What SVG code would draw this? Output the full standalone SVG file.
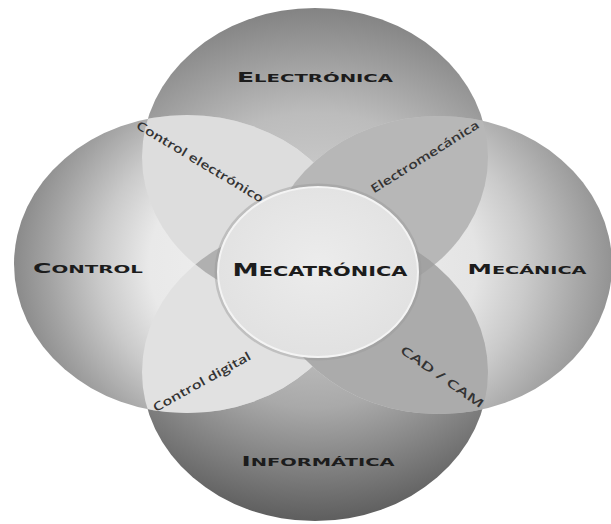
<svg xmlns="http://www.w3.org/2000/svg" width="611" height="524" viewBox="0 0 611 524">
<style>
.cap{font-family:"DejaVu Sans","Liberation Sans",sans-serif;font-weight:bold;fill:#1c1c1c;}
.lbl{font-family:"Open Sans","DejaVu Sans",sans-serif;font-weight:600;fill:#333333;font-size:12px;}
</style>
<defs>
<radialGradient id="gTop" cx="0.5" cy="0.78" r="0.78">
<stop offset="0" stop-color="#d6d6d6"/><stop offset="0.55" stop-color="#bcbcbc"/><stop offset="1" stop-color="#838383"/>
</radialGradient>
<radialGradient id="gBottom" cx="0.5" cy="0.22" r="0.8">
<stop offset="0" stop-color="#d0d0d0"/><stop offset="0.5" stop-color="#a9a9a9"/><stop offset="1" stop-color="#5a5a5a"/>
</radialGradient>
<radialGradient id="gLeft" cx="0.75" cy="0.5" r="0.75">
<stop offset="0" stop-color="#f0f0f0"/><stop offset="0.48" stop-color="#e9e9e9"/><stop offset="0.67" stop-color="#cacaca"/><stop offset="0.87" stop-color="#a2a2a2"/><stop offset="1" stop-color="#8a8a8a"/>
</radialGradient>
<radialGradient id="gRight" cx="0.25" cy="0.5" r="0.75">
<stop offset="0" stop-color="#eeeeee"/><stop offset="0.48" stop-color="#e4e4e4"/><stop offset="0.67" stop-color="#cacaca"/><stop offset="0.87" stop-color="#a8a8a8"/><stop offset="1" stop-color="#939393"/>
</radialGradient>
<radialGradient id="gCenter" cx="0.5" cy="0.45" r="0.6">
<stop offset="0" stop-color="#ececec"/><stop offset="1" stop-color="#e0e0e0"/>
</radialGradient>
<clipPath id="cTop"><ellipse cx="315" cy="157" rx="173" ry="149"/></clipPath>
<clipPath id="cBottom"><ellipse cx="315" cy="372" rx="173" ry="149"/></clipPath>
<clipPath id="cLeft"><ellipse cx="187" cy="264" rx="173" ry="149"/></clipPath>
<clipPath id="cRight"><ellipse cx="439" cy="265" rx="173" ry="149"/></clipPath>
</defs>
<rect width="611" height="524" fill="#ffffff"/>

<g id="electronica">
<ellipse cx="315" cy="157" rx="173" ry="149" fill="url(#gTop)"/>
<text class="cap" x="315" y="82" text-anchor="middle" textLength="156" lengthAdjust="spacingAndGlyphs"><tspan font-size="14">E</tspan><tspan font-size="11">LECTRÓNICA</tspan></text>
</g>
<g id="informatica">
<ellipse cx="315" cy="372" rx="173" ry="149" fill="url(#gBottom)"/>
<text class="cap" x="318" y="466" text-anchor="middle" textLength="153" lengthAdjust="spacingAndGlyphs"><tspan font-size="14">I</tspan><tspan font-size="11">NFORMÁTICA</tspan></text>
</g>
<g id="control">
<ellipse cx="187" cy="264" rx="173" ry="149" fill="url(#gLeft)"/>
</g>
<g id="mecanica">
<ellipse cx="439" cy="265" rx="173" ry="149" fill="url(#gRight)"/>
</g>

<g id="intersecciones">
<ellipse cx="187" cy="264" rx="173" ry="149" fill="#dddddd" clip-path="url(#cTop)"/>
<ellipse cx="187" cy="264" rx="173" ry="149" fill="#e1e1e1" clip-path="url(#cBottom)"/>
<ellipse cx="439" cy="265" rx="173" ry="149" fill="#b7b7b7" clip-path="url(#cTop)"/>
<ellipse cx="439" cy="265" rx="173" ry="149" fill="#ababab" clip-path="url(#cBottom)"/>
<g clip-path="url(#cBottom)"><ellipse cx="315" cy="157" rx="173" ry="149" fill="#b0b0b0" clip-path="url(#cLeft)"/></g>
<g clip-path="url(#cBottom)"><ellipse cx="315" cy="157" rx="173" ry="149" fill="#a2a2a2" clip-path="url(#cRight)"/></g>
</g>

<g id="labels-outer">
<text class="cap" x="88" y="273" text-anchor="middle" textLength="110" lengthAdjust="spacingAndGlyphs"><tspan font-size="14">C</tspan><tspan font-size="11">ONTROL</tspan></text>
<text class="cap" x="527" y="274" text-anchor="middle" textLength="119" lengthAdjust="spacingAndGlyphs"><tspan font-size="14">M</tspan><tspan font-size="11">ECÁNICA</tspan></text>
</g>

<g id="mecatronica">
<ellipse cx="318" cy="272" rx="102" ry="87" fill="none" stroke="#9a9a9a" stroke-opacity="0.45" stroke-width="3"/>
<ellipse cx="318" cy="272" rx="100" ry="85" fill="url(#gCenter)" stroke="#f4f4f4" stroke-width="2"/>
<text class="cap" x="320" y="276" text-anchor="middle" textLength="175" lengthAdjust="spacingAndGlyphs" fill="#111"><tspan font-size="17">M</tspan><tspan font-size="13.5">ECATRÓNICA</tspan></text>
</g>

<g id="connectors">
<text class="lbl" transform="translate(200,162) rotate(31)" x="0" y="4" text-anchor="middle" textLength="146" lengthAdjust="spacingAndGlyphs">Control electrónico</text>
<text class="lbl" transform="translate(425,157) rotate(-32)" x="0" y="4" text-anchor="middle" textLength="125" lengthAdjust="spacingAndGlyphs">Electromecánica</text>
<text class="lbl" transform="translate(202,382) rotate(-29)" x="0" y="4" text-anchor="middle" textLength="110" lengthAdjust="spacingAndGlyphs">Control digital</text>
<text class="lbl" transform="translate(442,377) rotate(35)" x="0" y="4" text-anchor="middle" textLength="99" lengthAdjust="spacingAndGlyphs">CAD  /  CAM</text>
</g>
</svg>
